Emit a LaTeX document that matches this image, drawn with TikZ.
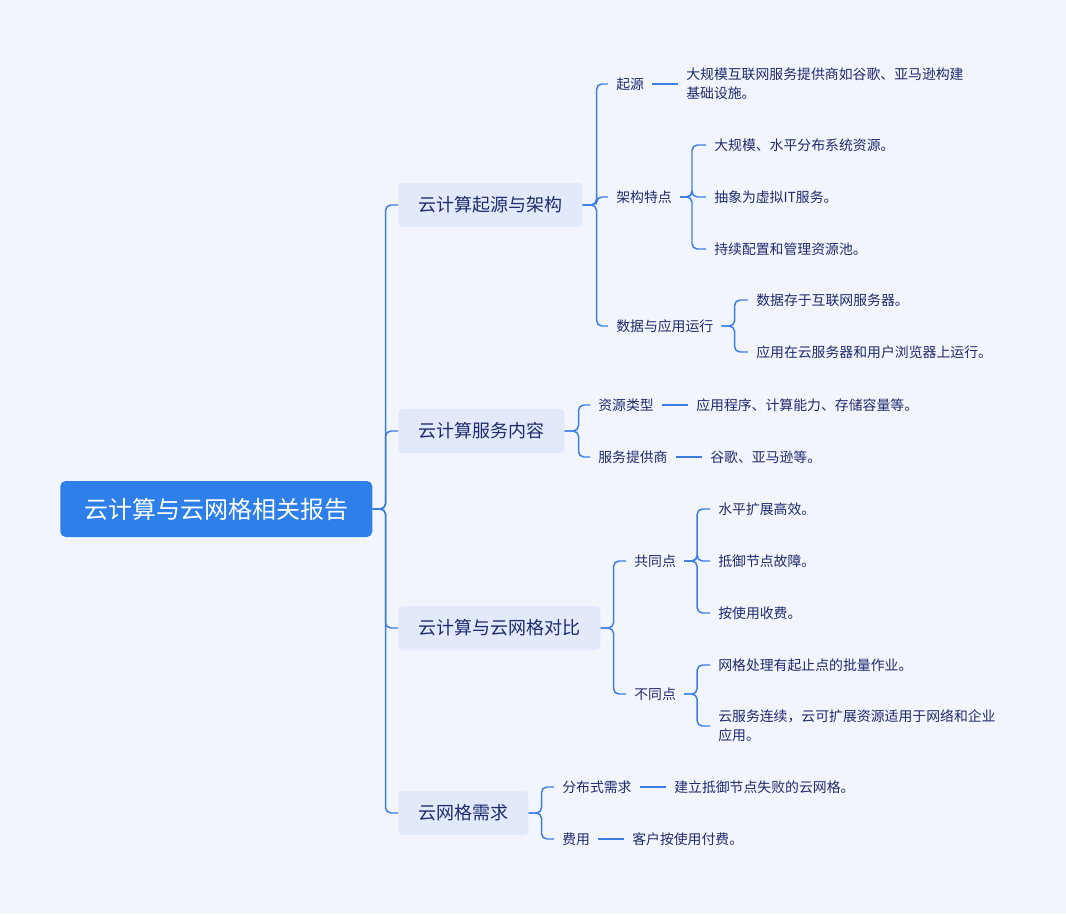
\documentclass[tikz,border=0pt]{standalone}
\usepackage{fontspec}
\setmainfont{Noto Sans CJK SC}
\definecolor{bg}{HTML}{F3F5FC}
\definecolor{rootc}{HTML}{2E7FEA}
\definecolor{l1c}{HTML}{E2E9FA}
\definecolor{txt}{HTML}{1E2B6E}
\definecolor{ln}{HTML}{3B7EE6}
\begin{document}
\begin{tikzpicture}[x=0.75pt,y=-0.75pt,
  rootbox/.style={fill=rootc,text=white,rounded corners=4pt,minimum width=234pt,minimum height=42pt,font=\fontsize{18}{22}\selectfont,anchor=west},
  lonebox/.style={fill=l1c,text=txt,rounded corners=3pt,minimum height=33pt,inner xsep=15pt,font=\fontsize{13.5}{16}\selectfont,anchor=west},
  mid/.style={text=txt,inner xsep=6pt,inner ysep=2pt,font=\fontsize{10.4}{14}\selectfont,anchor=west},
  leaf/.style={mid,align=left},
  conn/.style={draw=ln,line width=1.1pt,rounded corners=4pt}]
\useasboundingbox[fill=bg] (0,0) rectangle (1066,914);
\node[rootbox] (root) at (60,509) {云计算与云网格相关报告};
\node[lonebox] (a) at (398,205) {云计算起源与架构};
\node[lonebox] (b) at (398,431) {云计算服务内容};
\node[lonebox] (c) at (398,628) {云计算与云网格对比};
\node[lonebox] (d) at (398,813) {云网格需求};
\foreach \n in {a,b,c,d} \draw[conn] (root.east) -- ++(13,0) |- (\n.west);
% branch a
\node[mid] (a1) at (608,84) {起源};
\node[mid] (a2) at (608,197) {架构特点};
\node[mid] (a3) at (608,326) {数据与应用运行};
\foreach \n in {a1,a2,a3} \draw[conn] (a.east) -- ++(14,0) |- (\n.west);
\node[leaf] (a1l) at (678,84) {大规模互联网服务提供商如谷歌、亚马逊构建\\基础设施。};
\draw[conn] (a1.east) -- (a1l.west);
\node[leaf] (a2l1) at (706,145) {大规模、水平分布系统资源。};
\node[leaf] (a2l2) at (706,197) {抽象为虚拟IT服务。};
\node[leaf] (a2l3) at (706,249) {持续配置和管理资源池。};
\foreach \n in {a2l1,a2l2,a2l3} \draw[conn] (a2.east) -- ++(12,0) |- (\n.west);
\node[leaf] (a3l1) at (748,300) {数据存于互联网服务器。};
\node[leaf] (a3l2) at (748,352) {应用在云服务器和用户浏览器上运行。};
\foreach \n in {a3l1,a3l2} \draw[conn] (a3.east) -- ++(13,0) |- (\n.west);
% branch b
\node[mid] (b1) at (590,405) {资源类型};
\node[mid] (b2) at (590,457) {服务提供商};
\foreach \n in {b1,b2} \draw[conn] (b.east) -- ++(14,0) |- (\n.west);
\node[leaf] (b1l) at (688,405) {应用程序、计算能力、存储容量等。};
\node[leaf] (b2l) at (702,457) {谷歌、亚马逊等。};
\draw[conn] (b1.east) -- (b1l.west);
\draw[conn] (b2.east) -- (b2l.west);
% branch c
\node[mid] (c1) at (626,561) {共同点};
\node[mid] (c2) at (626,694) {不同点};
\foreach \n in {c1,c2} \draw[conn] (c.east) -- ++(13,0) |- (\n.west);
\node[leaf] (c1l1) at (710,509) {水平扩展高效。};
\node[leaf] (c1l2) at (710,561) {抵御节点故障。};
\node[leaf] (c1l3) at (710,613) {按使用收费。};
\foreach \n in {c1l1,c1l2,c1l3} \draw[conn] (c1.east) -- ++(13,0) |- (\n.west);
\node[leaf] (c2l1) at (710,665) {网格处理有起止点的批量作业。};
\node[leaf] (c2l2) at (710,726) {云服务连续，云可扩展资源适用于网络和企业\\应用。};
\foreach \n in {c2l1,c2l2} \draw[conn] (c2.east) -- ++(13,0) |- (\n.west);
% branch d
\node[mid] (d1) at (554,787) {分布式需求};
\node[mid] (d2) at (554,839) {费用};
\foreach \n in {d1,d2} \draw[conn] (d.east) -- ++(13,0) |- (\n.west);
\node[leaf] (d1l) at (666,787) {建立抵御节点失败的云网格。};
\node[leaf] (d2l) at (624,839) {客户按使用付费。};
\draw[conn] (d1.east) -- (d1l.west);
\draw[conn] (d2.east) -- (d2l.west);
\end{tikzpicture}
\end{document}
